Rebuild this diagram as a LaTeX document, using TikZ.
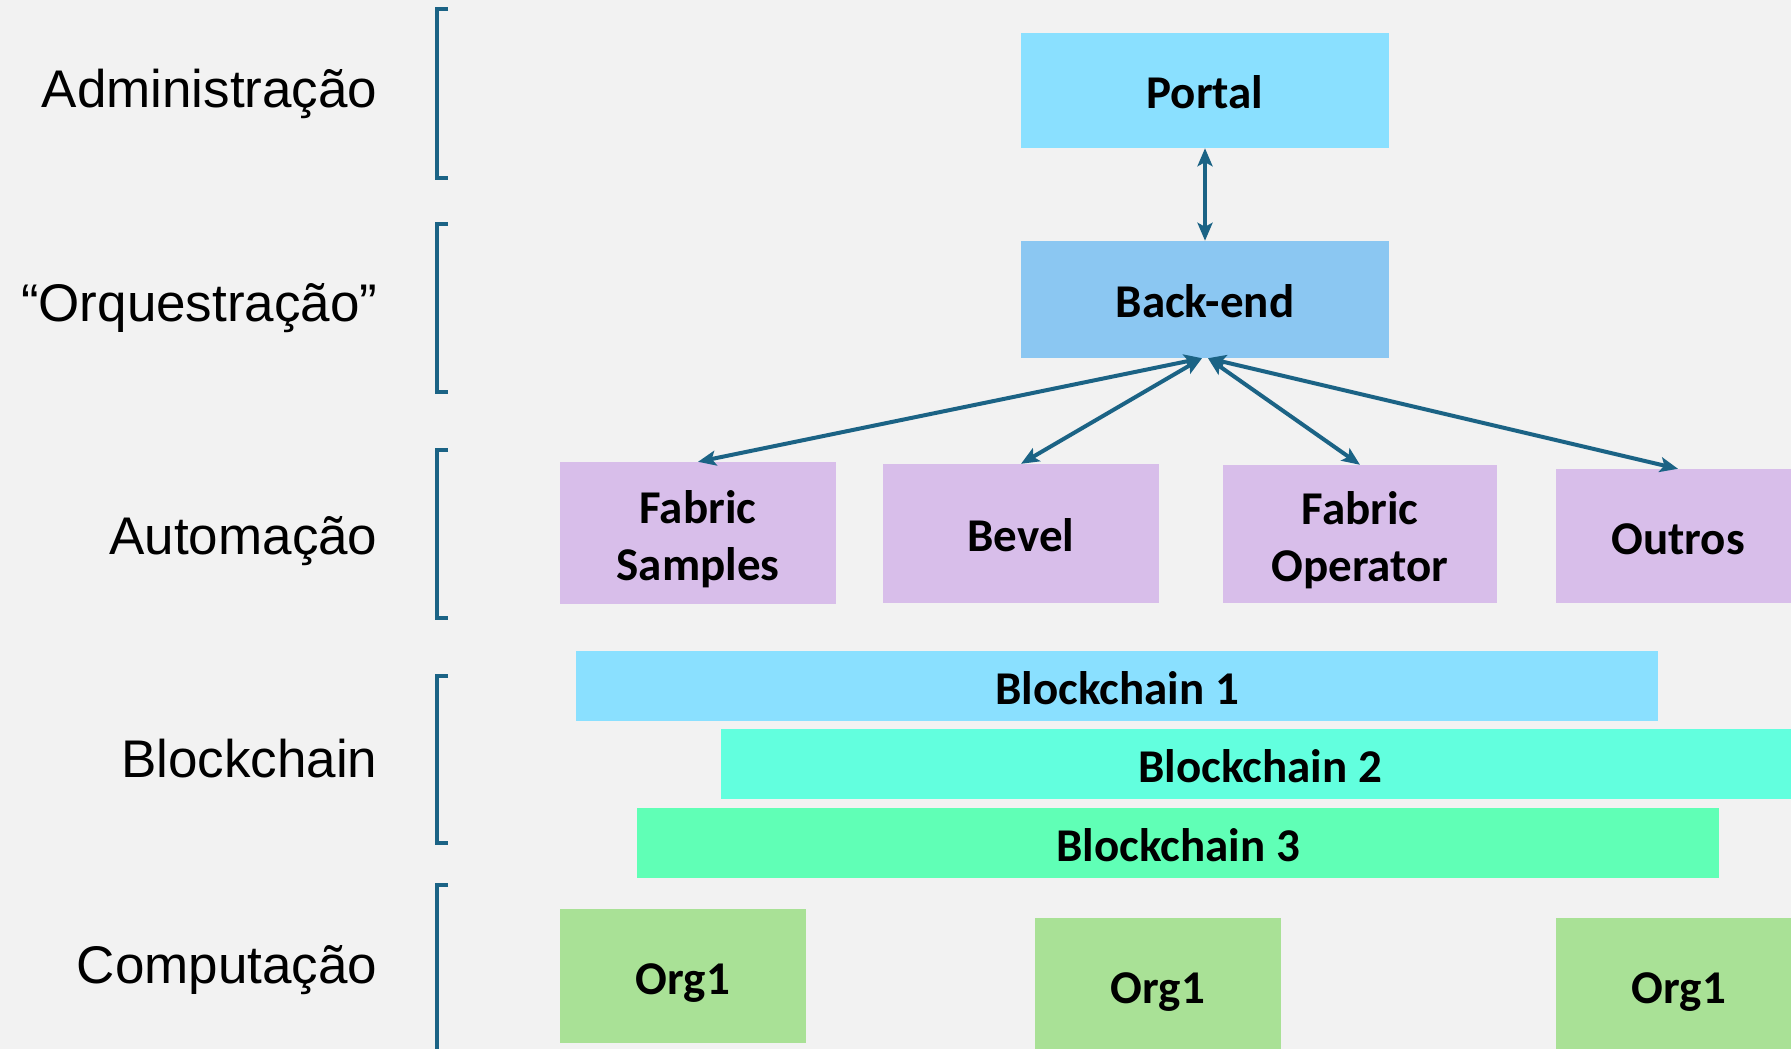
\documentclass[tikz,border=0pt]{standalone}
\usepackage{fontspec}
\setmainfont{Liberation Sans}
\newfontfamily\boxfont{Carlito}
\usetikzlibrary{arrows.meta}
\definecolor{bg}{HTML}{F2F2F2}
\definecolor{linkblue}{HTML}{1B6385}
\definecolor{portalblue}{HTML}{8AE0FF}
\definecolor{backblue}{HTML}{8BC7F2}
\definecolor{automauve}{HTML}{D8BEEA}
\definecolor{chainone}{HTML}{8AE0FF}
\definecolor{chaintwo}{HTML}{62FFDE}
\definecolor{chainthree}{HTML}{60FFB6}
\definecolor{orggreen}{HTML}{A9E196}
\newcommand{\topstrut}{\rule{0pt}{45pt}}
\begin{document}
\begin{tikzpicture}[x=1pt, y=-1pt,
        box/.style={rectangle, draw=none, inner sep=0pt, align=center, font=\boxfont\bfseries\fontsize{47}{57}\selectfont},
        solo/.style={box, execute at begin node={\rule[-10pt]{0pt}{56pt}}},
        layer/.style={anchor=base east, font=\fontsize{53}{64}\selectfont},
        duplex/.style={draw=linkblue, line width=4pt, {Stealth[length=18pt,width=15pt,inset=4pt]}-{Stealth[length=18pt,width=15pt,inset=4pt]}}]
        \useasboundingbox (0,0) rectangle (1791,1049);
        \clip (0,0) rectangle (1791,1049);
        \fill[bg] (0,0) rectangle (1791,1049);

        \node[layer] (admin) at(381,107){Administração};
        \node[layer] (orq) at(381,321){“Orquestração”};
        \node[layer] (auto) at(381,554){Automação};
        \node[layer] (chain) at(381,777){Blockchain};
        \node[layer] (comp) at(381,983){Computação};

        \foreach \top/\bot in {9/178, 224/392, 450/618, 676/843, 885/1060}
            \draw[linkblue, line width=4pt] (448,\top) -- (437,\top) -- (437,\bot) -- (448,\bot);

        \node[solo, fill=portalblue, minimum width=368pt, minimum height=115pt] (portal) at(1205,90.5){Portal};
        \node[solo, fill=backblue, minimum width=368pt, minimum height=117pt] (back-end) at(1205,299.5){Back-end};
        \draw[duplex] (portal) -- (back-end);

        \node[box, fill=automauve, minimum width=276pt, minimum height=142pt] (fabric-samples) at(698,533){\topstrut Fabric\\Samples};
        \node[solo, fill=automauve, minimum width=276pt, minimum height=139pt] (bevel) at(1021,533.5){Bevel};
        \node[box, fill=automauve, minimum width=274pt, minimum height=138pt] (fabric-operator) at(1360,534){\topstrut Fabric\\Operator};
        \node[solo, fill=automauve, minimum width=244pt, minimum height=134pt] (outros) at(1678,536){Outros};

        \coordinate (hub-left) at ([xshift=-3pt]back-end.south);
        \coordinate (hub-right) at ([xshift=3pt]back-end.south);
        \draw[duplex] (hub-left) -- (fabric-samples.north);
        \draw[duplex] (hub-left) -- (bevel.north);
        \draw[duplex] (hub-right) -- (fabric-operator.north);
        \draw[duplex] (hub-right) -- (outros.north);

        \node[solo, fill=chainone, minimum width=1082pt, minimum height=70pt] (chain-1) at(1117,686){Blockchain 1};
        \node[solo, fill=chaintwo, minimum width=1079pt, minimum height=70pt] (chain-2) at(1260,764){Blockchain 2};
        \node[solo, fill=chainthree, minimum width=1082pt, minimum height=70pt] (chain-3) at(1178,843){Blockchain 3};

        \node[solo, fill=orggreen, minimum width=246pt, minimum height=134pt] (org-a) at(683,976){Org1};
        \node[solo, fill=orggreen, minimum width=246pt, minimum height=134pt] (org-b) at(1158,985){Org1};
        \node[solo, fill=orggreen, minimum width=246pt, minimum height=134pt] (org-c) at(1679,985){Org1};

      \end{tikzpicture}
\end{document}
